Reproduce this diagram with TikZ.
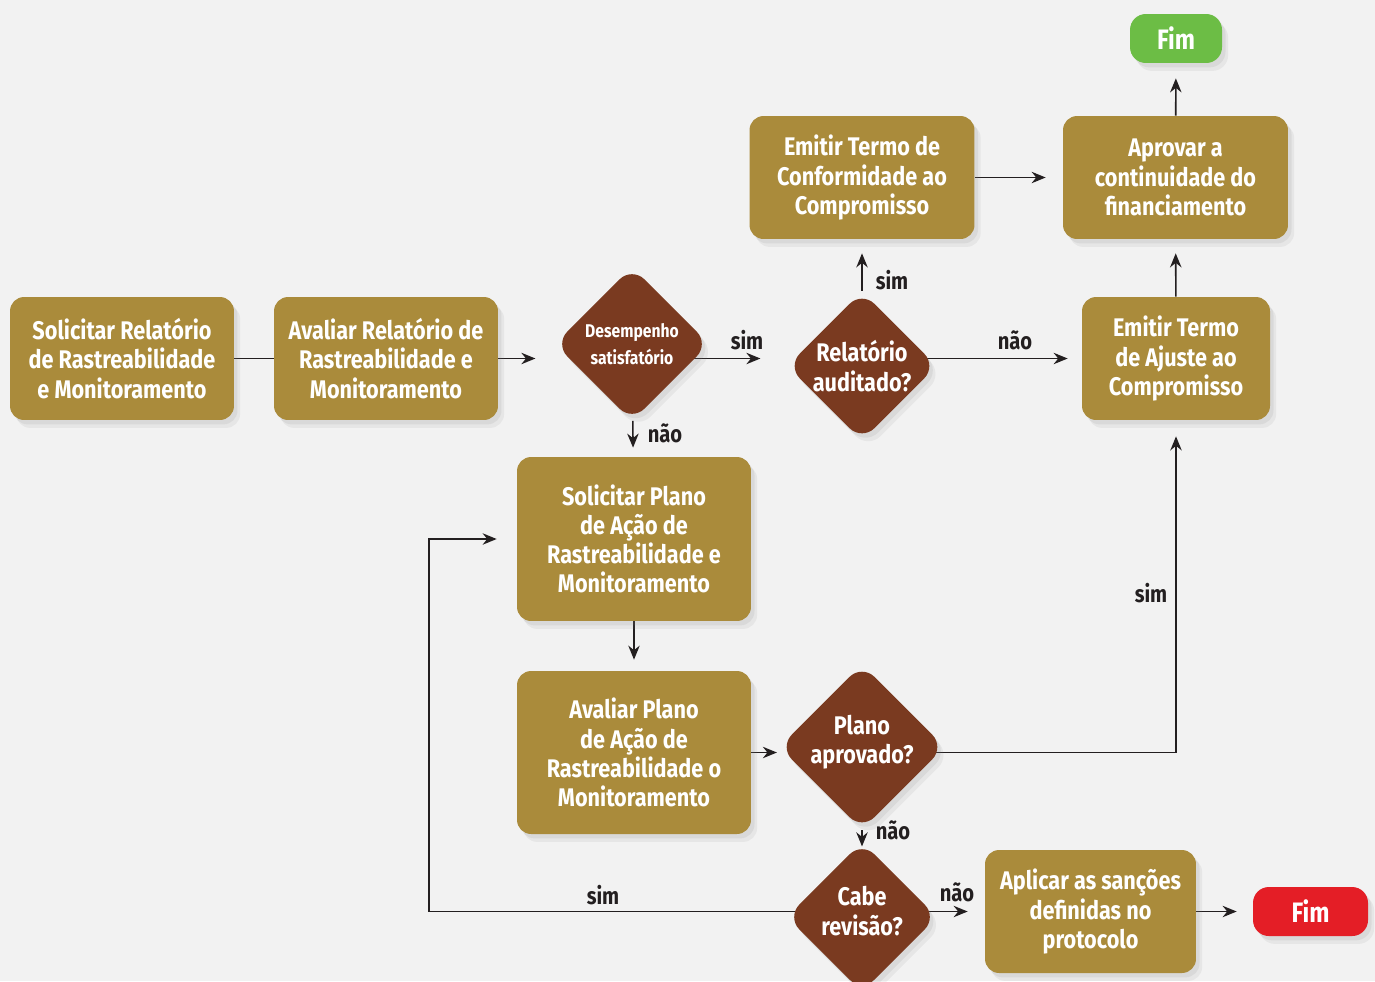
\documentclass[tikz,border=0pt]{standalone}
\usepackage{fontspec}
\setmainfont{Fira Sans}[FakeStretch=0.85]
\usetikzlibrary{shapes.geometric}
\usetikzlibrary{arrows.meta}
\usetikzlibrary{shadows}
\usetikzlibrary{backgrounds}
\usepackage{xcolor}

\definecolor{paper}{HTML}{F2F2F2}
\definecolor{boxgold}{HTML}{AA8B3B}
\definecolor{decbrown}{HTML}{7A3A20}
\definecolor{okgreen}{HTML}{6CBD45}
\definecolor{stopred}{HTML}{E41E26}
\definecolor{ink}{HTML}{231F20}

\tikzset{
    shade/.style={drop shadow={opacity=0.10, shadow xshift=3.5pt, shadow yshift=-4.5pt},
                  drop shadow={opacity=0.12, shadow xshift=2pt, shadow yshift=-2.5pt}},
    proc/.style={rectangle, rounded corners=8pt, fill=boxgold, text=white,
                 font=\bfseries\fontsize{14.5}{16.6}\selectfont, align=center,
                 inner sep=0pt, shade},
    decision/.style={diamond, aspect=1, rounded corners=10pt, fill=decbrown,
                     inner sep=0pt, shade},
    dectext/.style={text=white, align=center,
                    font=\bfseries\fontsize{14.5}{16.6}\selectfont},
    endbox/.style={rectangle, rounded corners=9pt, text=white,
                   font=\bfseries\fontsize{16}{18}\selectfont,
                   minimum height=0.98cm, inner sep=0pt, shade},
    answer/.style={text=ink, font=\bfseries\fontsize{13.5}{15}\selectfont},
    conn/.style={line width=0.9pt, draw=ink},
    flow/.style={conn, -{Stealth[length=8pt, width=6.5pt]}},
}

\begin{document}
\begin{tikzpicture}[x=0.02cm, y=-0.02cm]
        \useasboundingbox (0, 0) rectangle (1375, 981);

        % upper row
        \node[proc, minimum width=4.48cm, minimum height=2.46cm] (solrel) at (122, 358.5)
            {Solicitar Relatório\\de Rastreabilidade\\e Monitoramento};
        \node[proc, minimum width=4.48cm, minimum height=2.46cm] (avrel) at (386, 358.5)
            {Avaliar Relatório de\\Rastreabilidade e\\Monitoramento};
        \node[decision, minimum size=3.09cm,
              label={[dectext, font=\bfseries\fontsize{10.5}{15.4}\selectfont]center:Desempenho\\satisfatório}]
            (desemp) at (632, 344) {};
        \node[decision, minimum size=2.99cm,
              label={[dectext]center:Relatório\\auditado?}] (audit) at (862, 366) {};
        \node[proc, minimum width=4.5cm, minimum height=2.46cm] (conform) at (862, 177.5)
            {Emitir Termo de\\Conformidade ao\\Compromisso};
        \node[proc, minimum width=4.5cm, minimum height=2.46cm] (aprov) at (1175.5, 177.5)
            {Aprovar a\\continuidade do\\financiamento};
        \node[endbox, fill=okgreen, minimum width=1.84cm] (fimok) at (1176, 38.5) {Fim};
        \node[proc, minimum width=3.76cm, minimum height=2.46cm] (ajuste) at (1176, 358.5)
            {Emitir Termo\\de Ajuste ao\\Compromisso};

        % lower part
        \node[proc, minimum width=4.68cm, minimum height=3.28cm] (solplano) at (634, 539)
            {Solicitar Plano\\de Ação de\\Rastreabilidade e\\Monitoramento};
        \node[proc, minimum width=4.68cm, minimum height=3.26cm] (avplano) at (634, 752.5)
            {Avaliar Plano\\de Ação de\\Rastreabilidade o\\Monitoramento};
        \node[decision, minimum size=3.31cm,
              label={[dectext, yshift=0.1cm]center:Plano\\aprovado?}] (aprovado) at (862, 747) {};
        \node[decision, minimum size=3.01cm,
              label={[dectext, yshift=0.12cm]center:Cabe\\revisão?}] (revisao) at (862, 917) {};
        \node[proc, minimum width=4.22cm, minimum height=2.46cm] (sancoes) at (1090.5, 911.5)
            {Aplicar as sanções\\definidas no\\protocolo};
        \node[endbox, fill=stopred, minimum width=2.3cm] (fimno) at (1310.5, 911.5) {Fim};

        \coordinate (volta) at (429, 911.5);

        \node[answer] (s1) at (747, 340) {sim};
        \node[answer] (s2) at (892, 280) {sim};
        \node[answer] (n1) at (1015, 340) {não};
        \node[answer] (n2) at (665, 433) {não};
        \node[answer] (s3) at (1151, 593) {sim};
        \node[answer] (n3) at (893, 830) {não};
        \node[answer] (n4) at (957, 892) {não};
        \node[answer] (s4) at (603, 895) {sim};

        \begin{scope}[on background layer]
            \fill[paper] (0, 0) rectangle (1375, 981);

            \draw[conn] (solrel) -- (avrel);
            \draw[flow, shorten >=0.38cm] (avrel) -- (avrel -| desemp.west);
            \draw[flow, shorten >=0.53cm] (desemp.center |- avrel) -- (audit.west |- avrel);
            \draw[flow, shorten >=0.28cm] (audit) -- (conform);
            \draw[flow, shorten >=0.28cm] (audit.center |- ajuste) -- (ajuste);
            \draw[flow, shorten >=0.34cm] (conform) -- (aprov);
            \draw[flow, shorten >=0.3cm]  (aprov) -- (fimok);
            \draw[flow, shorten >=0.28cm] (ajuste) -- (aprov);

            \draw[flow, shorten >=0.18cm] (desemp) -- (solplano);
            \draw[flow, shorten >=0.22cm] (solplano) -- (avplano);
            \draw[flow, shorten >=0.04cm] (avplano) -- (avplano -| aprovado.west);
            \draw[flow, shorten >=0.32cm] (aprovado.center |- avplano) -| (ajuste);
            \draw[flow, shorten >=-0.1cm] (aprovado) -- (revisao);
            \draw[flow, shorten >=0.34cm] (revisao.center |- sancoes) -- (sancoes);
            \draw[flow, shorten >=0.32cm] (sancoes) -- (fimno);
            \draw[flow, shorten >=0.4cm]  (revisao.center |- sancoes) -- (volta) |- (solplano);
        \end{scope}
    \end{tikzpicture}
\end{document}
